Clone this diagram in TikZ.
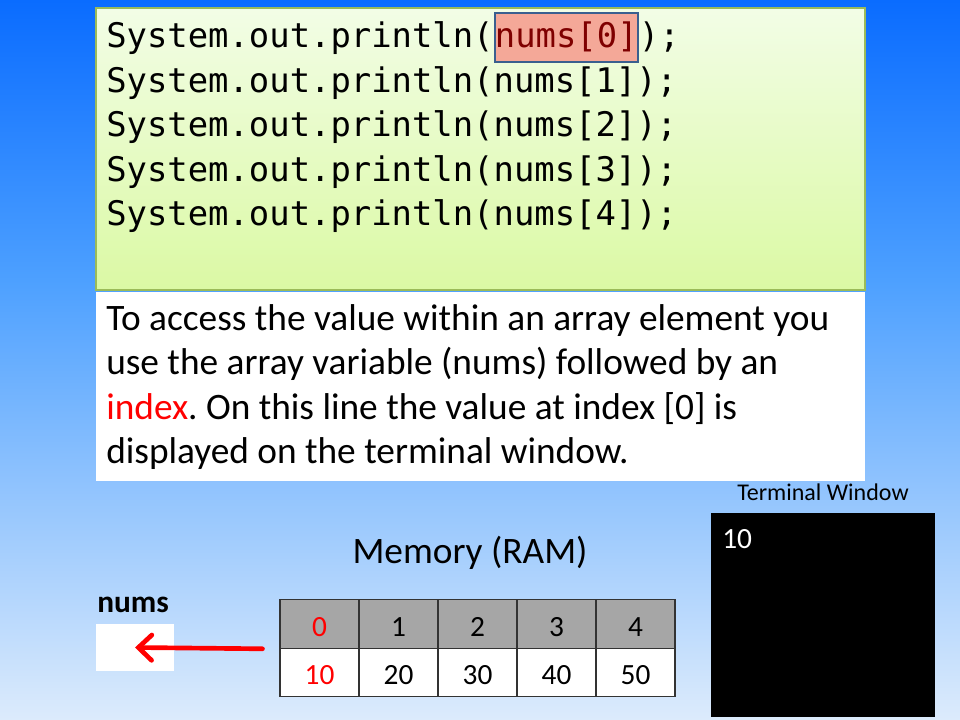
\documentclass[tikz,border=0pt]{standalone}
\usepackage{fontspec}
\setmainfont{Carlito}
\newfontfamily\codefont{DejaVu Sans Mono}
\usetikzlibrary{arrows.meta,positioning}
\frenchspacing
\definecolor{skytop}{HTML}{0A6CFF}
\definecolor{skymid}{HTML}{4DA0FF}
\definecolor{skylow}{HTML}{DCEBFC}
\definecolor{codetop}{HTML}{F2FDE6}
\definecolor{codelow}{HTML}{DBF9A4}
\definecolor{codeedge}{HTML}{9BBB59}
\definecolor{hlfill}{HTML}{F4A898}
\definecolor{hledge}{HTML}{3A5F8F}
\definecolor{hltext}{HTML}{7F0000}
\definecolor{cellgray}{HTML}{A6A6A6}
\tikzset{
  codeline/.style={anchor=base west, inner sep=0pt, font=\codefont\fontsize{25.4}{30}\selectfont},
  hilite/.style={codeline, fill=hlfill, draw=hledge, line width=1.5pt, text=hltext,
    text height=26pt, text depth=10.5pt},
  expline/.style={anchor=base west, inner sep=0pt, font=\fontsize{28}{34}\selectfont},
  cell/.style={draw=black!80, line width=0.8pt, minimum width=59.25pt, minimum height=36.4pt,
    inner sep=0pt, text height=18.5pt, text depth=0pt, font=\fontsize{22}{26}\selectfont},
  hcell/.style={cell, fill=cellgray},
  vcell/.style={cell, fill=white},
  ptr/.style={draw=red, line width=3.5pt, line cap=round, -{Straight Barb[length=10pt,width=19pt,line cap=round]}}
}
\begin{document}
\begin{tikzpicture}[x=0.75pt,y=-0.75pt]
  \useasboundingbox (0,0) rectangle (960,720);
  % background
  \fill[top color=skytop, bottom color=skymid] (0,0) rectangle (960,280);
  \fill[top color=skymid, bottom color=skylow] (0,279.5) rectangle (960,720);

  % code panel
  \draw[codeedge, line width=1pt, top color=codetop, bottom color=codelow] (96,8) rectangle (865,290);
  \node[codeline] (l1a) at (106,48) {System.out.println(};
  \node[hilite] (hl) at (l1a.base east) {nums[0]};
  \node[codeline] (l1c) at (hl.base east) {);};
  \foreach \i in {1,...,4}
    \node[codeline] (l\i) at (106,48+44.5*\i) {System.out.println(nums[\i]);};

  % explanation
  \fill[white] (96,292) rectangle (865,481);
  \foreach \i/\txt in {0/{To access the value within an array element you},
                       1/{use the array variable (nums) followed by an},
                       2/{\textcolor{red}{index}. On this line the value at index [0] is},
                       3/{displayed on the terminal window.}}
    \node[expline] (exp\i) at (106,330+44.5*\i) {\txt};

  % terminal
  \node[font=\fontsize{18}{20}\selectfont] (termlbl) at (823,492) {Terminal Window};
  \fill[black] (711,513) rectangle (935,717);
  \node[anchor=base west, inner sep=0pt, text=white, font=\fontsize{22}{26}\selectfont] (out) at (722,548) {10};

  % memory
  \node[font=\fontsize{28}{32}\selectfont] (memlbl) at (470,553) {Memory (RAM)};
  \foreach \i/\v/\c in {0/10/red,1/20/black,2/30/black,3/40/black,4/50/black} {
    \node[hcell, text=\c] (h\i) at (319.5+79*\i,624) {\i};
    \node[vcell, text=\c] (v\i) at (319.5+79*\i,672.5) {\v};
  }
  \node[anchor=base west, inner sep=0pt, font=\bfseries\fontsize{23.5}{26}\selectfont] (numslbl) at (97,612) {nums};
  \node[fill=white, minimum width=58.5pt, minimum height=35.25pt, inner sep=0pt] (numsbox) at (135,647.5) {};
  \draw[ptr] ([xshift=-12.75pt]h0.south west) -- (numsbox.center);
\end{tikzpicture}
\end{document}
